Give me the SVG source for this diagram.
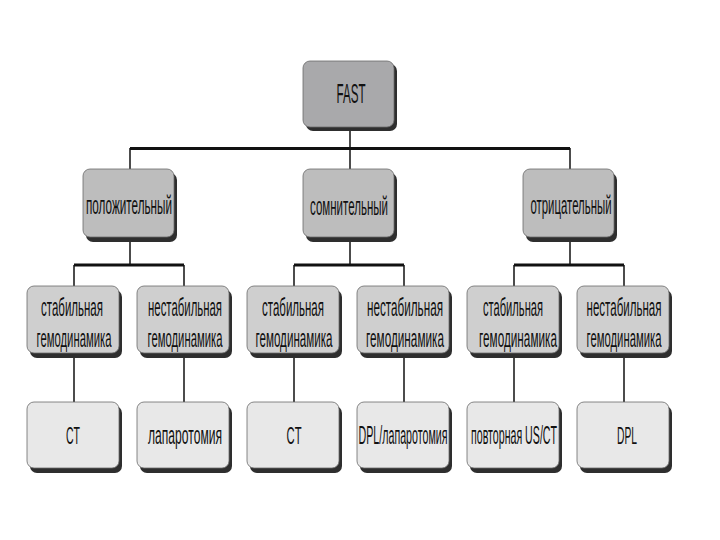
<svg xmlns="http://www.w3.org/2000/svg" width="720" height="540" viewBox="0 0 720 540">
<defs>
<style>
.sh{fill:#2e2e2e}
.b{stroke:#6a6a6a;stroke-width:0.8}
.l1{fill:#a9a9ab}
.l2{fill:#bdbdbd}
.l3{fill:#cfcfcf}
.l4{fill:#e8e8e8}
text{font-family:"Liberation Sans Narrow","Liberation Sans",Arial,sans-serif;fill:#111;text-anchor:middle}
.t2{font-size:25px}
.t{font-size:26px}
.t4{font-size:25px}
.c{font-size:24px}
.f{font-size:27px}
.hl{stroke:#111;stroke-width:3;fill:none}
.vl{stroke:#111;stroke-width:1.5;fill:none}
</style>
</defs>
<rect width="720" height="540" fill="#ffffff"/>
<g id="connectors">
<line class="vl" x1="350" y1="128" x2="350" y2="170"/>
<line class="hl" x1="130" y1="148.5" x2="570" y2="148.5"/>
<line class="vl" x1="130" y1="148" x2="130" y2="170"/>
<line class="vl" x1="570" y1="148" x2="570" y2="170"/>
<line class="vl" x1="130" y1="240" x2="130" y2="265"/>
<line class="vl" x1="350" y1="240" x2="350" y2="265"/>
<line class="vl" x1="570" y1="240" x2="570" y2="265"/>
<line class="hl" x1="74" y1="265" x2="184" y2="265"/>
<line class="hl" x1="294" y1="265" x2="404" y2="265"/>
<line class="hl" x1="514" y1="265" x2="624" y2="265"/>
<line class="vl" x1="74" y1="265" x2="74" y2="287"/>
<line class="vl" x1="184" y1="265" x2="184" y2="287"/>
<line class="vl" x1="294" y1="265" x2="294" y2="287"/>
<line class="vl" x1="404" y1="265" x2="404" y2="287"/>
<line class="vl" x1="514" y1="265" x2="514" y2="287"/>
<line class="vl" x1="624" y1="265" x2="624" y2="287"/>
<line class="vl" x1="74" y1="356" x2="74" y2="403"/>
<line class="vl" x1="184" y1="356" x2="184" y2="403"/>
<line class="vl" x1="294" y1="356" x2="294" y2="403"/>
<line class="vl" x1="404" y1="356" x2="404" y2="403"/>
<line class="vl" x1="514" y1="356" x2="514" y2="403"/>
<line class="vl" x1="624" y1="356" x2="624" y2="403"/>
</g>
<g id="fast">
<rect class="sh" x="306" y="64" width="91" height="67" rx="7"/>
<rect class="l1 b" x="303" y="61" width="91" height="66" rx="7"/>
<text class="f" transform="translate(351 103) scale(0.5 1)" textLength="58" lengthAdjust="spacingAndGlyphs">FAST</text>
</g>
<g id="pos">
<rect class="sh" x="86" y="173" width="91" height="69" rx="7"/>
<rect class="l2 b" x="83" y="169" width="91" height="68" rx="7"/>
<text class="t2" transform="translate(129 214) scale(0.5 1)" textLength="172" lengthAdjust="spacingAndGlyphs">положительный</text>
</g>
<g id="doubt">
<rect class="sh" x="306" y="173" width="91" height="69" rx="7"/>
<rect class="l2 b" x="303" y="169" width="91" height="68" rx="7"/>
<text class="t2" transform="translate(349 215) scale(0.5 1)" textLength="156" lengthAdjust="spacingAndGlyphs">сомнительный</text>
</g>
<g id="neg">
<rect class="sh" x="526" y="173" width="91" height="69" rx="7"/>
<rect class="l2 b" x="523" y="169" width="91" height="68" rx="7"/>
<text class="t2" transform="translate(571 214) scale(0.5 1)" textLength="162" lengthAdjust="spacingAndGlyphs">отрицательный</text>
</g>
<g id="pos-stable">
<rect class="sh" x="30" y="290" width="92" height="68" rx="7"/>
<rect class="l3 b" x="27" y="286" width="92" height="67" rx="7"/>
<text class="t" transform="translate(72 316) scale(0.5 1)" textLength="124" lengthAdjust="spacingAndGlyphs">стабильная</text>
<text class="t" transform="translate(74 347) scale(0.5 1)" textLength="150" lengthAdjust="spacingAndGlyphs">гемодинамика</text>
</g>
<g id="pos-unstable">
<rect class="sh" x="140" y="290" width="92" height="68" rx="7"/>
<rect class="l3 b" x="137" y="286" width="92" height="67" rx="7"/>
<text class="t" transform="translate(185 316) scale(0.5 1)" textLength="148" lengthAdjust="spacingAndGlyphs">нестабильная</text>
<text class="t" transform="translate(185 347) scale(0.5 1)" textLength="150" lengthAdjust="spacingAndGlyphs">гемодинамика</text>
</g>
<g id="doubt-stable">
<rect class="sh" x="250" y="290" width="92" height="68" rx="7"/>
<rect class="l3 b" x="247" y="286" width="92" height="67" rx="7"/>
<text class="t" transform="translate(293 316) scale(0.5 1)" textLength="124" lengthAdjust="spacingAndGlyphs">стабильная</text>
<text class="t" transform="translate(294 347) scale(0.5 1)" textLength="154" lengthAdjust="spacingAndGlyphs">гемодинамика</text>
</g>
<g id="doubt-unstable">
<rect class="sh" x="360" y="290" width="92" height="68" rx="7"/>
<rect class="l3 b" x="357" y="286" width="92" height="67" rx="7"/>
<text class="t" transform="translate(405 316) scale(0.5 1)" textLength="152" lengthAdjust="spacingAndGlyphs">нестабильная</text>
<text class="t" transform="translate(405 347) scale(0.5 1)" textLength="156" lengthAdjust="spacingAndGlyphs">гемодинамика</text>
</g>
<g id="neg-stable">
<rect class="sh" x="470" y="290" width="92" height="68" rx="7"/>
<rect class="l3 b" x="467" y="286" width="92" height="67" rx="7"/>
<text class="t" transform="translate(513 316) scale(0.5 1)" textLength="120" lengthAdjust="spacingAndGlyphs">стабильная</text>
<text class="t" transform="translate(518 347) scale(0.5 1)" textLength="156" lengthAdjust="spacingAndGlyphs">гемодинамика</text>
</g>
<g id="neg-unstable">
<rect class="sh" x="580" y="290" width="92" height="68" rx="7"/>
<rect class="l3 b" x="577" y="286" width="92" height="67" rx="7"/>
<text class="t" transform="translate(624 316) scale(0.5 1)" textLength="150" lengthAdjust="spacingAndGlyphs">нестабильная</text>
<text class="t" transform="translate(624 347) scale(0.5 1)" textLength="150" lengthAdjust="spacingAndGlyphs">гемодинамика</text>
</g>
<g id="ct1">
<rect class="sh" x="30" y="406" width="92" height="67" rx="7"/>
<rect class="l4 b" x="27" y="402" width="92" height="66" rx="7"/>
<text class="c" transform="translate(73 444) scale(0.5 1)" textLength="28" lengthAdjust="spacingAndGlyphs">CT</text>
</g>
<g id="lap">
<rect class="sh" x="140" y="406" width="92" height="67" rx="7"/>
<rect class="l4 b" x="137" y="402" width="92" height="66" rx="7"/>
<text class="t4" transform="translate(185 444) scale(0.5 1)" textLength="148" lengthAdjust="spacingAndGlyphs">лапаротомия</text>
</g>
<g id="ct2">
<rect class="sh" x="250" y="406" width="92" height="67" rx="7"/>
<rect class="l4 b" x="247" y="402" width="92" height="66" rx="7"/>
<text class="c" transform="translate(294 444) scale(0.5 1)" textLength="30" lengthAdjust="spacingAndGlyphs">CT</text>
</g>
<g id="dpl-lap">
<rect class="sh" x="360" y="406" width="92" height="67" rx="7"/>
<rect class="l4 b" x="357" y="402" width="92" height="66" rx="7"/>
<text class="t4" transform="translate(403 444) scale(0.5 1)" textLength="178" lengthAdjust="spacingAndGlyphs">DPL/лапаротомия</text>
</g>
<g id="repeat">
<rect class="sh" x="470" y="406" width="92" height="67" rx="7"/>
<rect class="l4 b" x="467" y="402" width="92" height="66" rx="7"/>
<text class="t4" transform="translate(514 444) scale(0.5 1)" textLength="172" lengthAdjust="spacingAndGlyphs">повторная US/CT</text>
</g>
<g id="dpl">
<rect class="sh" x="580" y="406" width="92" height="67" rx="7"/>
<rect class="l4 b" x="577" y="402" width="92" height="66" rx="7"/>
<text class="c" transform="translate(627 444) scale(0.5 1)" textLength="40" lengthAdjust="spacingAndGlyphs">DPL</text>
</g>
</svg>
